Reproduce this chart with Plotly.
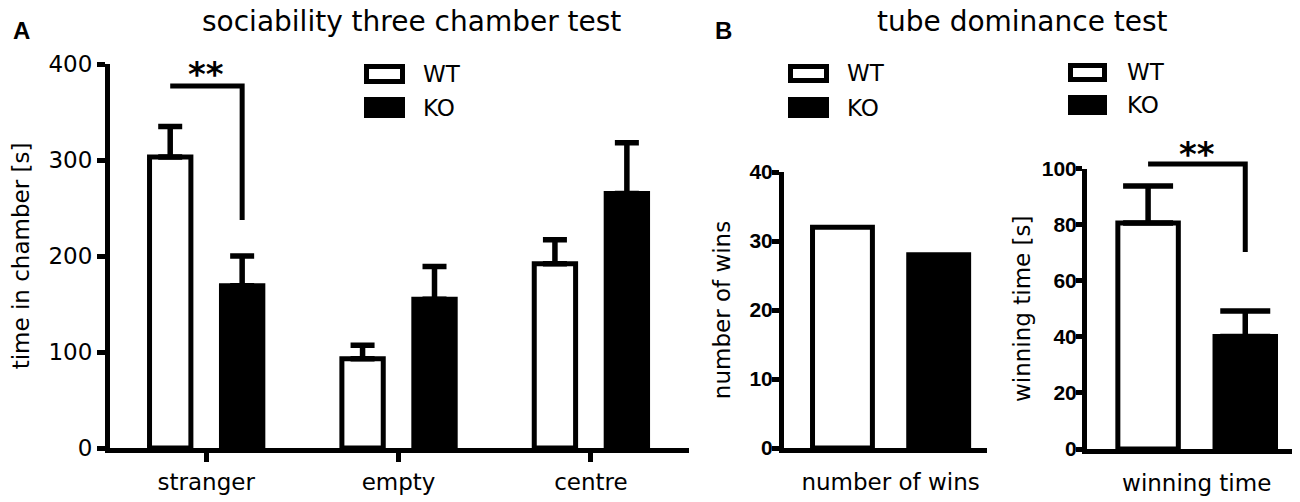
import plotly.graph_objects as go

# panel A: sociability three chamber test (time in chamber, s)
chambers = ["stranger", "empty", "centre"]
wt_chamber = [303, 93, 192]
wt_chamber_sem = [32, 14, 25]
ko_chamber = [169, 155, 265]
ko_chamber_sem = [31, 34, 53]
a_ticks = [0, 100, 200, 300, 400]

# panel B: tube dominance test
wins_cat = ["number of wins"]
wt_wins = [32]
ko_wins = [28]
b1_ticks = [0, 10, 20, 30, 40]

wintime_cat = ["winning time"]
wt_wintime = [80.6]
wt_wintime_sem = [13.2]
ko_wintime = [40.1]
ko_wintime_sem = [9.1]
b2_ticks = [0, 20, 40, 60, 80, 100]

groups = ["WT", "KO"]

# significance brackets (level of bar, end of drop), in data units
sig_a = [377, 237.5]
sig_b = [101.6, 70.2]

W, H = 1300, 502
FONT = "DejaVu Sans"
BOLD = "Liberation Sans, Arial"


def px(x):
    return x / W


def py(y):
    return 1 - y / H


def bar_style(group):
    fill = "white" if group == "WT" else "black"
    return dict(color=fill, line=dict(color="black", width=5))


def err(vals, cap):
    return dict(type="data", array=vals, arrayminus=[0] * len(vals),
                symmetric=False, color="black", thickness=5.5, width=cap)


fig = go.Figure()

# panel A bars
a_x = list(range(len(chambers)))
a_w, a_c = 0.215, 0.187
fig.add_trace(go.Bar(name=groups[0], x=a_x, y=wt_chamber, width=a_w, offset=-a_c - a_w / 2,
                     marker=bar_style("WT"), error_y=err(wt_chamber_sem, 12),
                     xaxis="x", yaxis="y", showlegend=False))
fig.add_trace(go.Bar(name=groups[1], x=a_x, y=ko_chamber, width=a_w, offset=a_c - a_w / 2,
                     marker=bar_style("KO"), error_y=err(ko_chamber_sem, 12),
                     xaxis="x", yaxis="y", showlegend=False))

# panel B bars
b_w, b_c = 0.295, 0.237
fig.add_trace(go.Bar(name=groups[0], x=[0], y=wt_wins, width=b_w, offset=-b_c - b_w / 2,
                     marker=bar_style("WT"), xaxis="x2", yaxis="y2", showlegend=False))
fig.add_trace(go.Bar(name=groups[1], x=[0], y=ko_wins, width=b_w, offset=b_c - b_w / 2,
                     marker=bar_style("KO"), xaxis="x2", yaxis="y2", showlegend=False))
fig.add_trace(go.Bar(name=groups[0], x=[0], y=wt_wintime, width=b_w, offset=-b_c - b_w / 2,
                     marker=bar_style("WT"), error_y=err(wt_wintime_sem, 25),
                     xaxis="x3", yaxis="y3", showlegend=False))
fig.add_trace(go.Bar(name=groups[1], x=[0], y=ko_wintime, width=b_w, offset=b_c - b_w / 2,
                     marker=bar_style("KO"), error_y=err(ko_wintime_sem, 25),
                     xaxis="x3", yaxis="y3", showlegend=False))

axis_common = dict(showline=True, linewidth=5, linecolor="black", showgrid=False,
                   zeroline=False, ticks="outside", tickcolor="black", tickwidth=4.5,
                   automargin=False, fixedrange=True)

fig.update_layout(
    width=W, height=H,
    margin=dict(l=0, r=0, t=0, b=0, autoexpand=False),
    paper_bgcolor="white", plot_bgcolor="white",
    barmode="overlay",
    font=dict(family=FONT, size=23, color="black"),
    xaxis=dict(axis_common, domain=[px(110), px(689)], range=[-0.5, 2.51],
               tickvals=a_x, ticktext=chambers, ticklen=9, anchor="y",
               tickfont=dict(family=FONT, size=23)),
    yaxis=dict(axis_common, domain=[py(448), py(64)], range=[0, 400],
               tickvals=a_ticks, ticklen=8, anchor="x",
               tickfont=dict(family=FONT, size=23),
               title=dict(text="time in chamber [s]", font=dict(family=FONT, size=23), standoff=14)),
    xaxis2=dict(axis_common, domain=[px(784), px(987)], range=[-0.525, 0.475],
                tickvals=[0], ticktext=wins_cat, ticks="", ticklabelstandoff=9, anchor="y2",
                tickfont=dict(family=FONT, size=23)),
    yaxis2=dict(axis_common, domain=[py(448), py(172)], range=[0, 40],
                tickvals=b1_ticks, ticklen=7, ticklabelstandoff=-5, anchor="x2",
                tickfont=dict(family=BOLD, size=21, weight="bold"),
                title=dict(text="number of wins", font=dict(family=FONT, size=23), standoff=14)),
    xaxis3=dict(axis_common, domain=[px(1087), px(1292)], range=[-0.535, 0.465],
                tickvals=[0], ticktext=wintime_cat, ticks="", ticklabelstandoff=9, anchor="y3",
                tickfont=dict(family=FONT, size=23)),
    yaxis3=dict(axis_common, domain=[py(449), py(168.5)], range=[0, 100],
                tickvals=b2_ticks, ticklen=6, ticklabelstandoff=-5, anchor="x3",
                tickfont=dict(family=BOLD, size=21, weight="bold"),
                title=dict(text="winning time [s]", font=dict(family=FONT, size=23), standoff=6)),
)

# significance brackets
fig.add_shape(type="path", xref="x", yref="y", line=dict(color="black", width=5),
              path=f"M{-a_c},{sig_a[0]} L{a_c},{sig_a[0]} L{a_c},{sig_a[1]}")
ymax_b = b2_ticks[-1]
fig.add_shape(type="path", xref="x3", yref="y3 domain", line=dict(color="black", width=5),
              path=f"M{-b_c},{sig_b[0] / ymax_b} L{b_c},{sig_b[0] / ymax_b} L{b_c},{sig_b[1] / ymax_b}")
fig.add_annotation(text="**", xref="x", yref="paper", x=0, y=py(74), showarrow=False,
                   xanchor="center", yanchor="middle", font=dict(family=FONT, size=34, weight="bold"))
fig.add_annotation(text="**", xref="x3", yref="paper", x=0, y=py(154), showarrow=False,
                   xanchor="center", yanchor="middle", font=dict(family=FONT, size=34, weight="bold"))

# legends (one per panel, as in the figure)
legends = [
    (364, 405, 421, [(64, 84), (97, 118)]),
    (788, 829, 845, [(64, 83), (97, 118)]),
    (1068, 1107, 1125, [(63, 82), (95, 115)]),
]
for x0, x1, tx, rows in legends:
    for g, (y0, y1) in zip(groups, rows):
        if g == "WT":
            fig.add_shape(type="rect", xref="paper", yref="paper",
                          x0=px(x0 + 2.5), x1=px(x1 - 2.5), y0=py(y0 + 2.5), y1=py(y1 - 2.5),
                          line=dict(color="black", width=5), fillcolor="white")
        else:
            fig.add_shape(type="rect", xref="paper", yref="paper",
                          x0=px(x0), x1=px(x1), y0=py(y0), y1=py(y1),
                          line=dict(width=0), fillcolor="black")
        fig.add_annotation(text=g, xref="paper", yref="paper", x=px(tx), y=py((y0 + y1) / 2),
                           xanchor="left", yanchor="middle", showarrow=False,
                           font=dict(family=FONT, size=23))

# panel titles and letters
fig.add_annotation(text="sociability three chamber test", xref="paper", yref="paper",
                   x=px(411), y=py(22), xanchor="center", yanchor="middle", showarrow=False,
                   font=dict(family=FONT, size=28))
fig.add_annotation(text="tube dominance test", xref="paper", yref="paper",
                   x=px(1022), y=py(22), xanchor="center", yanchor="middle", showarrow=False,
                   font=dict(family=FONT, size=28))
fig.add_annotation(text="A", xref="paper", yref="paper", x=px(11), y=py(30.5),
                   xanchor="left", yanchor="middle", showarrow=False,
                   font=dict(family=BOLD, size=24, weight="bold"))
fig.add_annotation(text="B", xref="paper", yref="paper", x=px(713), y=py(30.5),
                   xanchor="left", yanchor="middle", showarrow=False,
                   font=dict(family=BOLD, size=24, weight="bold"))

# drop the default page margin so the figure sits at the window corner
fig.write_html("out.html", config={"displayModeBar": False},
               post_script="document.body.style.margin='0';")
